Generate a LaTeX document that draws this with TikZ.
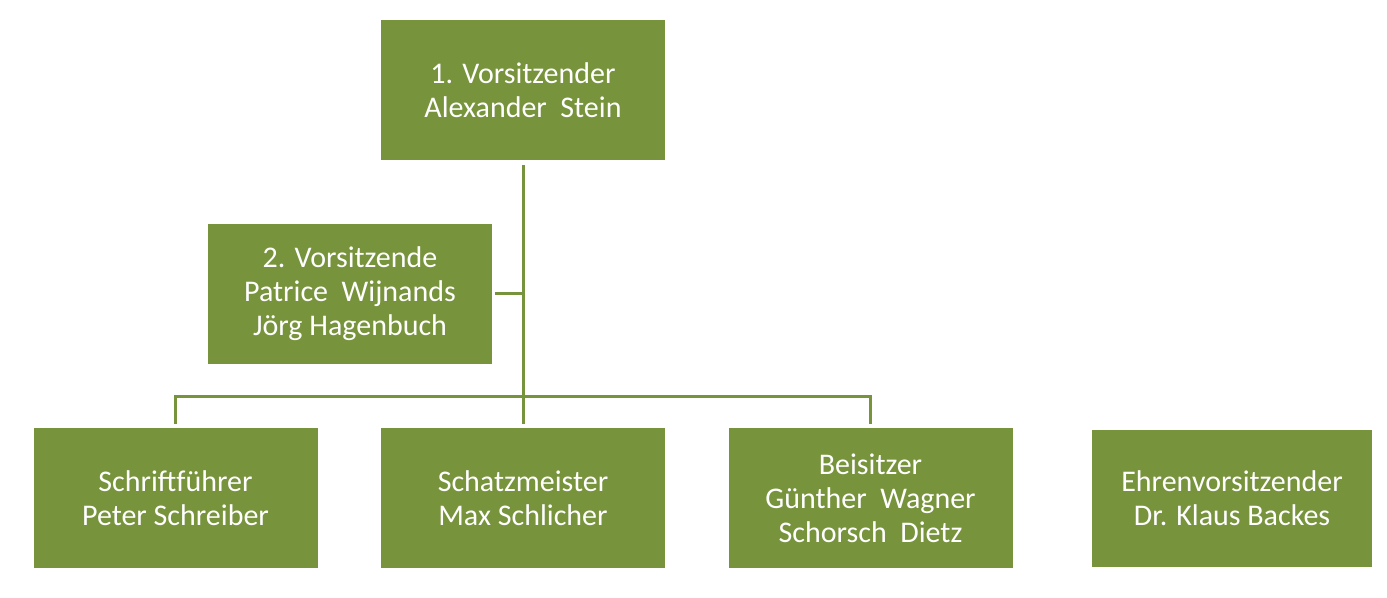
\documentclass[tikz,border=0pt]{standalone}
\usepackage{fontspec}
\setmainfont{Carlito}
\usepackage{tikz}
\usetikzlibrary{positioning}
\definecolor{vgreen}{RGB}{119,147,60}

\begin{document}
\begin{tikzpicture}[x=0.75pt,y=0.75pt,yscale=-1,xscale=1,
  box/.style={fill=vgreen,draw=none,text=white,align=center,inner sep=0pt,
    minimum width=213pt,minimum height=105pt,
    font=\fontsize{22.5}{25.5}\selectfont},
  conn/.style={draw=vgreen,line width=2.25pt}]
%set diagram to the size of the reference
\useasboundingbox (0,0) rectangle (1387,598);

% Boxes
\node [box] (vors1) at (523,90.5) {1. Vorsitzender\\Alexander\ \ Stein};
\node [box] (vors2) at (350,294) {2. Vorsitzende\\Patrice\ \ Wijnands\\Jörg Hagenbuch};
\node [box] (schrift) at (175.5,498) {Schriftführer\\Peter Schreiber};
\node [box] (schatz) at (523,498) {Schatzmeister\\Max Schlicher};
\node [box] (beisitz) at (870.5,498) {Beisitzer\\Günther\ \ Wagner\\Schorsch\ \ Dietz};
\node [box,minimum width=210pt,minimum height=103pt] (ehren) at (1232,498.5) {Ehrenvorsitzender\\Dr. Klaus Backes};

% Bar
\coordinate (bar) at (523,396);

% Lines
\draw [conn,shorten <=3pt,shorten >=3pt] (vors1.south) -- (schatz.north);
\draw [conn,shorten <=2pt] (vors2.east) -- (vors2.east -| vors1.south);
\draw [conn,shorten <=3pt,shorten >=3pt] (schrift.north) -- (schrift.north |- bar) -- (beisitz.north |- bar) -- (beisitz.north);

\end{tikzpicture}
\end{document}
